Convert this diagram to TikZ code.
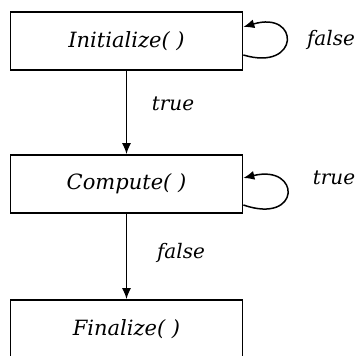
\documentclass[tikz,border=0pt]{standalone}
\usepackage{fontspec}
\setmainfont{DejaVu Serif}
\usetikzlibrary{arrows.meta}
\begin{document}
\begin{tikzpicture}[x=1pt,y=1pt,
  stepbox/.style={draw, line width=1.7pt, minimum width=232pt, minimum height=58pt, inner sep=0pt,
    font=\fontsize{21}{24}\selectfont\itshape},
  lbl/.style={font=\fontsize{20}{24}\selectfont\itshape, inner sep=0pt},
  conn/.style={line width=1.5pt, -{Latex[length=11pt,width=9pt]}}]
\clip (0,0) rectangle (360,356);
\node[stepbox] (init) at (126.5,315) {Initialize( )};
\node[stepbox] (comp) at (126.5,172) {Compute( )};
\node[stepbox] (fin) at (126.5,27) {Finalize( )};
\draw[conn] (init.south) -- (comp.north);
\draw[conn] (comp.south) -- (fin.north);
\draw[conn] ([yshift=-14pt]init.east) .. controls +(57,-17) and +(57,17) .. ([yshift=14pt]init.east);
\draw[conn] ([yshift=-21pt]comp.east) .. controls +(58,-20) and +(58,14) .. ([yshift=6pt]comp.east);
\node[lbl] (t1) at (173,252) {true};
\node[lbl] (f1) at (181,103) {false};
\node[lbl] (f2) at (331,316) {false};
\node[lbl] (t2) at (334,178) {true};
\end{tikzpicture}
\end{document}
